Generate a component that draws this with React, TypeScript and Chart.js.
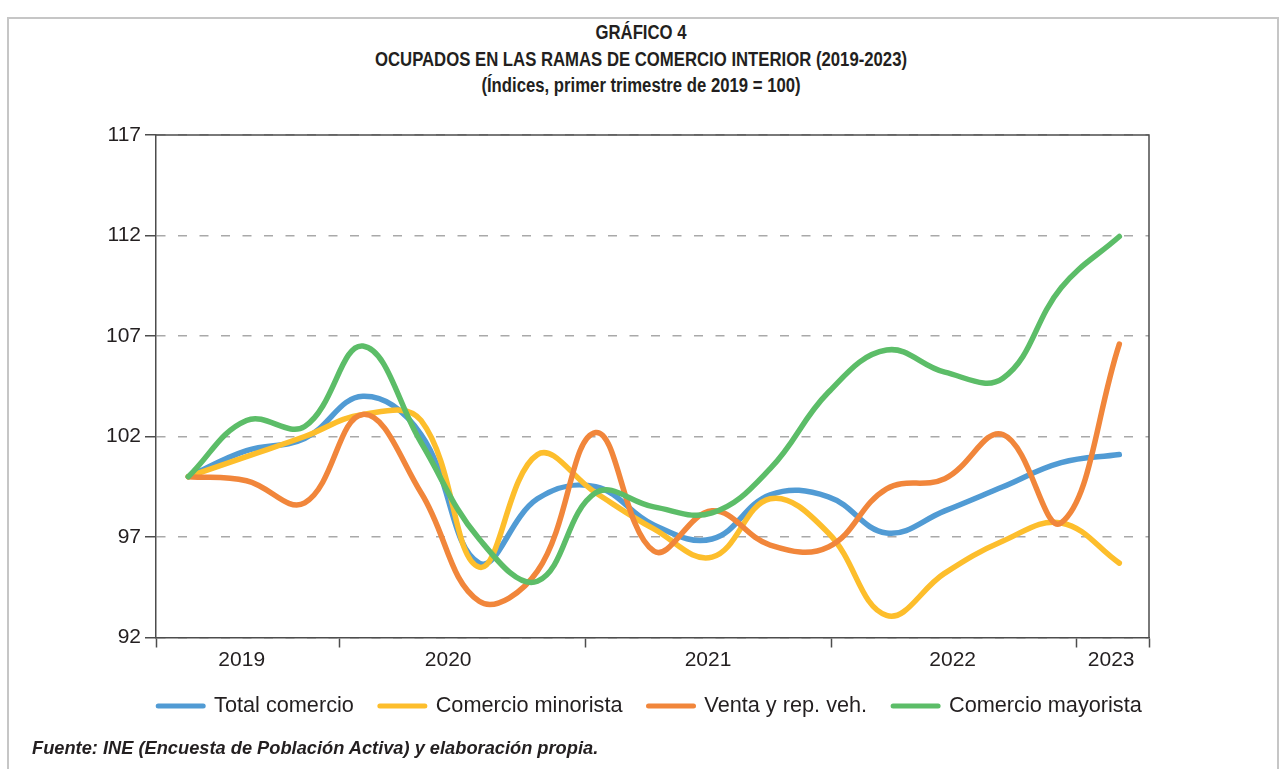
import React, { useEffect, useRef } from 'react';
import { Chart, registerables } from 'chart.js';

Chart.register(...registerables);

// ---- Data (quarterly, 1st quarter 2019 = 100) ----
const QUARTERS = [
  '2019-T1', '2019-T2', '2019-T3', '2019-T4',
  '2020-T1', '2020-T2', '2020-T3', '2020-T4',
  '2021-T1', '2021-T2', '2021-T3', '2021-T4',
  '2022-T1', '2022-T2', '2022-T3', '2022-T4',
  '2023-T1',
];
const TOTAL_COMERCIO = [100, 101.3, 101.9, 104.0, 102.1, 95.7, 98.9, 99.5, 97.6, 96.9, 99.1, 99.0, 97.2, 98.3, 99.5, 100.7, 101.1];
const COMERCIO_MINORISTA = [100, 101.0, 102.0, 103.1, 102.8, 95.5, 101.1, 99.2, 97.4, 96.0, 98.9, 97.2, 93.1, 95.2, 96.8, 97.7, 95.7];
const VENTA_REP_VEH = [100, 99.8, 98.7, 103.1, 99.2, 93.8, 95.3, 102.2, 96.3, 98.3, 96.6, 96.5, 99.4, 99.9, 102.1, 97.7, 106.6];
const COMERCIO_MAYORISTA = [100, 102.8, 102.5, 106.5, 101.7, 96.9, 94.8, 99.2, 98.5, 98.2, 100.4, 104.2, 106.3, 105.2, 104.9, 109.4, 111.95];

const SERIES_NAMES = ['Total comercio', 'Comercio minorista', 'Venta y rep. veh.', 'Comercio mayorista'];
const YEAR_LABELS = ['2019', '2020', '2021', '2022', '2023'];
const Y_TICKS = [92, 97, 102, 107, 112, 117];

// ---- Axis layout (in quarter-index units) ----
const X_MIN = -0.555;
const X_MAX = 16.51;
const YEAR_LABEL_POS = [0.918, 4.466, 8.931, 13.136, 15.86];
const YEAR_SEP_POS = [2.607, 6.834, 11.057, 15.272];

const COLORS = ['#519bd4', '#fdbe2c', '#f1863b', '#5cbd68'];
const TEXT = '#231f20';
const AXIS = '#4d4d4d';
const FONT = "'Liberation Sans', Arial, Helvetica, sans-serif";

const framePlugin = {
  id: 'plotFrame',
  beforeDatasetsDraw(chart: any) {
    const { ctx, chartArea } = chart;
    ctx.save();
    ctx.strokeStyle = AXIS;
    ctx.lineWidth = 1.5;
    ctx.beginPath();
    ctx.moveTo(chartArea.left, chartArea.top);
    ctx.lineTo(chartArea.right, chartArea.top);
    ctx.lineTo(chartArea.right, chartArea.bottom);
    ctx.stroke();
    ctx.restore();
  },
};

export default function App() {
  const canvasRef = useRef<HTMLCanvasElement | null>(null);

  useEffect(() => {
    if (!canvasRef.current) return;
    const seriesValues = [TOTAL_COMERCIO, COMERCIO_MINORISTA, VENTA_REP_VEH, COMERCIO_MAYORISTA];
    const datasets = seriesValues.map((vals, s) => ({
      label: SERIES_NAMES[s],
      data: QUARTERS.map((_, i) => ({ x: i, y: vals[i] })),
      borderColor: COLORS[s],
      backgroundColor: COLORS[s],
      borderWidth: 5.5,
      pointRadius: 0,
      pointHoverRadius: 0,
      tension: 0.4,
      fill: false,
      borderCapStyle: 'round' as const,
      borderJoinStyle: 'round' as const,
      order: 4 - s,
    }));

    const xTickValues = [X_MIN, ...YEAR_SEP_POS, X_MAX, ...YEAR_LABEL_POS].sort((a, b) => a - b);
    const labelSet = new Set(YEAR_LABEL_POS);

    const chart = new Chart(canvasRef.current, {
      type: 'line',
      data: { datasets },
      plugins: [framePlugin],
      options: {
        responsive: false,
        animation: false,
        devicePixelRatio: 1,
        layout: { padding: { left: 60, right: 40, top: 135, bottom: 42.15 } },
        scales: {
          x: {
            type: 'linear',
            min: X_MIN,
            max: X_MAX,
            afterBuildTicks: (scale: any) => {
              scale.ticks = xTickValues.map((v) => ({ value: v }));
            },
            afterFit: (scale: any) => {
              scale.height = 31.65;
            },
            grid: {
              drawOnChartArea: false,
              drawTicks: true,
              tickLength: 10,
              tickWidth: 1.5,
              tickColor: (c: any) => (c.tick && labelSet.has(c.tick.value) ? 'rgba(0,0,0,0)' : AXIS),
            },
            border: { display: true, color: AXIS, width: 1.5 },
            ticks: {
              autoSkip: false,
              maxRotation: 0,
              minRotation: 0,
              padding: 0,
              color: TEXT,
              font: { family: FONT, size: 21 },
              callback: (value: any) => {
                const i = YEAR_LABEL_POS.indexOf(Number(value));
                return i >= 0 ? YEAR_LABELS[i] : '';
              },
            },
          },
          y: {
            type: 'linear',
            position: 'left',
            min: Y_TICKS[0],
            max: Y_TICKS[Y_TICKS.length - 1],
            afterBuildTicks: (scale: any) => {
              scale.ticks = Y_TICKS.map((v) => ({ value: v }));
            },
            afterFit: (scale: any) => {
              scale.width = 96;
            },
            grid: {
              color: '#a9a9a9',
              lineWidth: 1.5,
              drawTicks: true,
              tickLength: 11,
              tickWidth: 1.5,
              tickColor: AXIS,
            },
            border: { display: true, color: AXIS, width: 1.5, dash: [9, 12.5] },
            ticks: {
              padding: 4,
              color: TEXT,
              font: { family: FONT, size: 21 },
              callback: (value: any) => String(value),
            },
          },
          yRight: {
            type: 'linear',
            position: 'right',
            display: true,
            min: Y_TICKS[0],
            max: Y_TICKS[Y_TICKS.length - 1],
            afterFit: (scale: any) => {
              scale.width = 91;
            },
            grid: { display: false, drawTicks: false },
            border: { display: false },
            ticks: { display: false },
          },
        },
        plugins: {
          title: { display: false },
          tooltip: { enabled: false },
          legend: {
            display: true,
            position: 'bottom',
            align: 'center',
            fullSize: true,
            labels: {
              usePointStyle: true,
              pointStyleWidth: 45,
              padding: 26,
              color: TEXT,
              font: { family: FONT, size: 21.7 },
              generateLabels: (ch: any) =>
                ch.data.datasets.map((d: any, i: number) => ({
                  text: d.label,
                  fillStyle: COLORS[i],
                  strokeStyle: COLORS[i],
                  lineWidth: 5,
                  lineCap: 'round',
                  pointStyle: 'line',
                  hidden: false,
                  datasetIndex: i,
                  fontColor: TEXT,
                })),
            },
          },
        },
      },
    } as any);

    return () => chart.destroy();
  }, []);

  return (
    <div
      style={{
        position: 'fixed',
        left: 0,
        top: 0,
        width: 1280,
        height: 769,
        background: '#ffffff',
        overflow: 'hidden',
      }}
    >
      <div
        style={{
          position: 'absolute',
          left: 7,
          top: 17,
          width: 1268,
          height: 800,
          borderTop: '2px solid #c6c6c6',
          borderLeft: '2px solid #c6c6c6',
          borderRight: '2px solid #c6c6c6',
        }}
      />
      <div
        style={{
          position: 'absolute',
          left: 0,
          top: 19,
          width: 1282,
          textAlign: 'center',
          fontFamily: FONT,
          fontWeight: 'bold',
          fontSize: 20,
          lineHeight: '26.5px',
          color: TEXT,
          transform: 'scaleX(0.836)',
          transformOrigin: '641px 0',
        }}
      >
        <div>GRÁFICO 4</div>
        <div>OCUPADOS EN LAS RAMAS DE COMERCIO INTERIOR (2019-2023)</div>
        <div>(Índices, primer trimestre de 2019 = 100)</div>
      </div>
      <canvas
        ref={canvasRef}
        width={1280}
        height={769}
        style={{ position: 'absolute', left: 0, top: 0, width: 1280, height: 769 }}
      />
      <div
        style={{
          position: 'absolute',
          left: 32,
          top: 737,
          fontFamily: FONT,
          fontWeight: 'bold',
          fontStyle: 'italic',
          fontSize: 18.25,
          lineHeight: '22px',
          color: TEXT,
          whiteSpace: 'nowrap',
        }}
      >
        Fuente: INE (Encuesta de Población Activa) y elaboración propia.
      </div>
    </div>
  );
}
